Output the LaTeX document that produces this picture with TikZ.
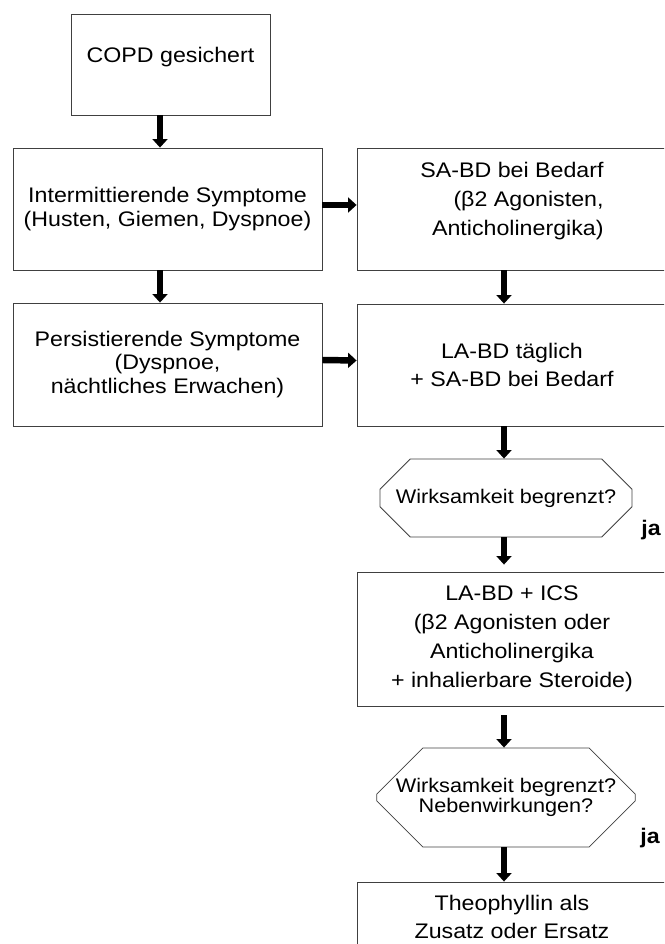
\documentclass[tikz,border=0pt]{standalone}
\usepackage{fontspec}
\setmainfont{Liberation Sans}[FakeStretch=1.1]
\usetikzlibrary{arrows.meta,shapes.misc}

\begin{document}
\begin{tikzpicture}[x=0.025cm,y=-0.025cm, % 1 px = 0.025 cm, y vers le bas
  boite/.style={draw=black!75, line width=0.6pt, inner sep=0pt, align=center,
    font=\fontsize{15}{17}\selectfont},
  boiteD/.style={boite, font=\fontsize{15}{20.5}\selectfont},
  test/.style={chamfered rectangle, draw=black!75, line width=0.6pt, inner sep=0pt,
    align=center, font=\fontsize{14}{14.2}\selectfont},
  fleche/.style={line width=4.6pt, -{Triangle[width=10.5pt,length=6pt]}}
]

% --------- PARAMÈTRES ----------
\def\upx{0.025cm}  % 1 px
\def\xg{160}       % axe des flèches à gauche
\def\xd{504}       % axe des flèches à droite
\def\largG{309}    % largeur des boîtes à gauche
\def\largD{310}    % largeur des boîtes à droite
% --------------------------------

% Cadre de l'image (les boîtes à droite sont coupées)
\useasboundingbox (0,0) rectangle (664,944);
\clip (0,0) rectangle (664,944);

\coordinate (xg) at (\xg,0);
\coordinate (xd) at (\xd,0);

% Colonne gauche
\node[boite, minimum width=199*\upx, minimum height=101*\upx, text depth=13pt]
  (copd) at (170.5,64.5) {COPD gesichert};
\node[boite, minimum width=\largG*\upx, minimum height=122*\upx]
  (inter) at (167.5,209) {Intermittierende Symptome\\(Husten, Giemen, Dyspnoe)};
\node[boite, minimum width=\largG*\upx, minimum height=123*\upx]
  (pers) at (167.5,364.5) {Persistierende Symptome\\(Dyspnoe,\\nächtliches Erwachen)};

% Colonne droite
\node[boiteD, align=right, minimum width=\largD*\upx, minimum height=122*\upx, text depth=14pt]
  (sabd) at (512,209) {SA-BD bei Bedarf\\(β2 Agonisten,\\Anticholinergika)};
\node[boiteD, minimum width=\largD*\upx, minimum height=122*\upx]
  (labd) at (512,365) {LA-BD täglich\\+ SA-BD bei Bedarf};
\node[test, minimum width=252*\upx, minimum height=78*\upx,
  chamfered rectangle xsep=23*\upx, chamfered rectangle ysep=21*\upx]
  (test1) at (506,498) {Wirksamkeit begrenzt?};
\node[boiteD, minimum width=\largD*\upx, minimum height=134*\upx]
  (ics) at (512,639) {LA-BD + ICS\\(β2 Agonisten oder\\Anticholinergika\\+ inhalierbare Steroide)};
\node[test, minimum width=252*\upx, minimum height=99*\upx,
  chamfered rectangle xsep=27*\upx, chamfered rectangle ysep=27*\upx]
  (test2) at (506,797.5) {Wirksamkeit begrenzt?\\Nebenwirkungen?};
\node[boiteD, minimum width=\largD*\upx, minimum height=70*\upx]
  (theo) at (512,917) {Theophyllin als\\Zusatz oder Ersatz};

% Réponses
\node[font=\bfseries\fontsize{15}{17}\selectfont] (ja1) at (651,530) {ja};
\node[font=\bfseries\fontsize{15}{17}\selectfont] (ja2) at (650,838) {ja};

% Flèches
\draw[fleche] (copd.south -| xg) -- (inter.north -| xg);
\draw[fleche] (inter.south -| xg) -- (pers.north -| xg);
\draw[fleche] ([yshift=4*\upx]inter.east) -- ([yshift=4*\upx]sabd.west);
\draw[fleche] ([yshift=4.5*\upx]pers.east) -- ([yshift=4.5*\upx]labd.west);
\draw[fleche] (sabd.south -| xd) -- (labd.north -| xd);
\draw[fleche] (labd.south -| xd) -- (test1.north -| xd);
\draw[fleche, shorten >=7*\upx] (test1.south -| xd) -- (ics.north -| xd);
\draw[fleche, shorten <=9*\upx] (ics.south -| xd) -- (test2.north -| xd);
\draw[fleche] (test2.south -| xd) -- (theo.north -| xd);

\end{tikzpicture}
\end{document}
